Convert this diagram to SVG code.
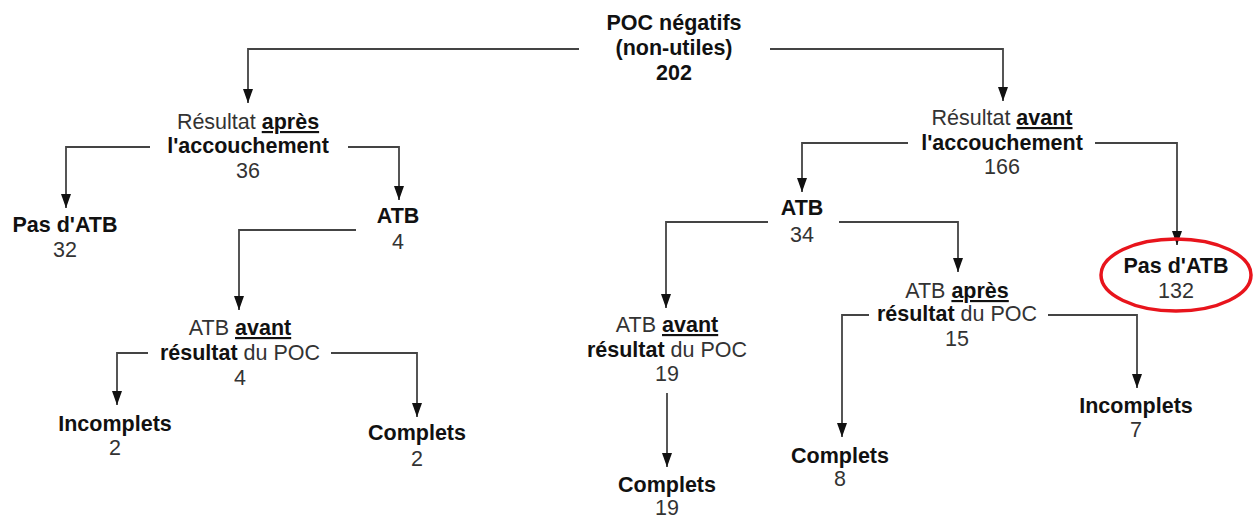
<svg xmlns="http://www.w3.org/2000/svg" width="1259" height="518" viewBox="0 0 1259 518">
<style>
text{font-family:"Liberation Sans",Arial,sans-serif;font-size:21.5px;text-anchor:middle;fill:#333}
.b{font-weight:bold;fill:#111}
.u{font-weight:bold;fill:#111;text-decoration:underline}
.c{fill:none;stroke:#444;stroke-width:1.8;marker-end:url(#ar)}
</style>
<defs>
<marker id="ar" markerUnits="userSpaceOnUse" markerWidth="14" markerHeight="10" refX="14" refY="5" orient="auto" viewBox="0 0 14 10">
<path d="M0,0 L14,5 L0,10 Z" fill="#111"/>
</marker>
</defs>
<rect width="1259" height="518" fill="#fff"/>
<g id="connectors">
<path class="c" d="M579 49 H248 V103"/>
<path class="c" d="M770 49 H1003 V101"/>
<path class="c" d="M150 147 H66 V208"/>
<path class="c" d="M348 147 H399 V200"/>
<path class="c" d="M356 230 H239 V310"/>
<path class="c" d="M148 353 H117 V405"/>
<path class="c" d="M331 353 H417 V417"/>
<path class="c" d="M908 143 H802 V192"/>
<path class="c" d="M1095 143 H1177 V245"/>
<path class="c" d="M768 222 H666 V308"/>
<path class="c" d="M839 222 H958 V272"/>
<path class="c" d="M667 393 V467"/>
<path class="c" d="M869 315 H842 V437"/>
<path class="c" d="M1048 315 H1137 V388"/>
</g>
<g id="root">
<text class="b" x="674" y="30">POC négatifs</text>
<text class="b" x="674" y="55">(non-utiles)</text>
<text class="b" x="674" y="80">202</text>
</g>
<g id="res-apres">
<text x="248" y="129">Résultat <tspan class="u">après</tspan></text>
<text class="b" x="248" y="153">l'accouchement</text>
<text x="248" y="178">36</text>
</g>
<g id="pas-atb-32">
<text class="b" x="65" y="232">Pas d'ATB</text>
<text x="65" y="257">32</text>
</g>
<g id="atb-4">
<text class="b" x="398" y="223">ATB</text>
<text x="398" y="249">4</text>
</g>
<g id="atb-avant-4">
<text x="240" y="335">ATB <tspan class="u">avant</tspan></text>
<text x="240" y="360"><tspan class="b">résultat</tspan> du POC</text>
<text x="240" y="385">4</text>
</g>
<g id="incomplets-2">
<text class="b" x="115" y="431">Incomplets</text>
<text x="115" y="455">2</text>
</g>
<g id="complets-2">
<text class="b" x="417" y="440">Complets</text>
<text x="417" y="466">2</text>
</g>
<g id="res-avant">
<text x="1002" y="125">Résultat <tspan class="u">avant</tspan></text>
<text class="b" x="1002" y="150">l'accouchement</text>
<text x="1002" y="174">166</text>
</g>
<g id="atb-34">
<text class="b" x="802" y="215">ATB</text>
<text x="802" y="242">34</text>
</g>
<g id="pas-atb-132">
<ellipse cx="1176" cy="275" rx="75" ry="36" fill="none" stroke="#e8141c" stroke-width="3.5"/>
<text class="b" x="1176" y="273">Pas d'ATB</text>
<text x="1176" y="298">132</text>
</g>
<g id="atb-avant-19">
<text x="667" y="332">ATB <tspan class="u">avant</tspan></text>
<text x="667" y="357"><tspan class="b">résultat</tspan> du POC</text>
<text x="667" y="381">19</text>
</g>
<g id="complets-19">
<text class="b" x="667" y="492">Complets</text>
<text x="667" y="515">19</text>
</g>
<g id="atb-apres-15">
<text x="957" y="298">ATB <tspan class="u">après</tspan></text>
<text x="957" y="321"><tspan class="b">résultat</tspan> du POC</text>
<text x="957" y="346">15</text>
</g>
<g id="complets-8">
<text class="b" x="840" y="463">Complets</text>
<text x="840" y="486">8</text>
</g>
<g id="incomplets-7">
<text class="b" x="1136" y="413">Incomplets</text>
<text x="1136" y="437">7</text>
</g>
</svg>
